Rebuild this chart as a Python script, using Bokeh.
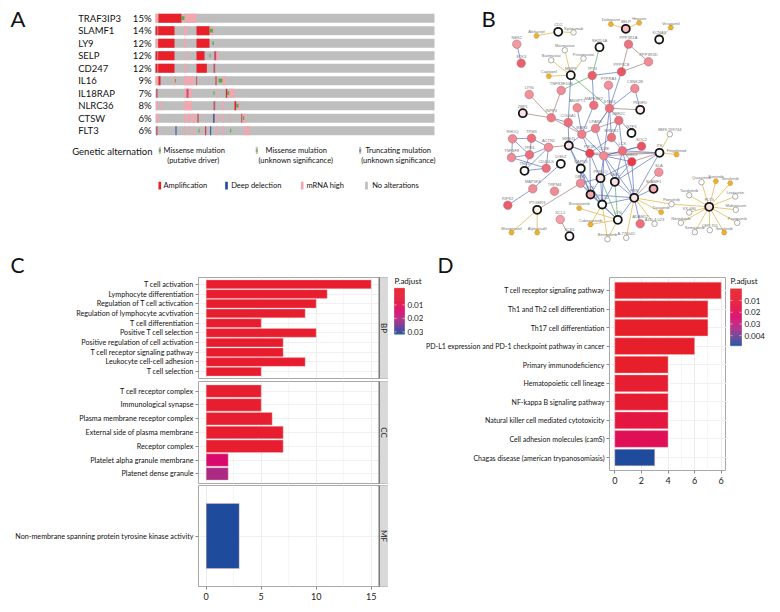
from bokeh.plotting import figure
from bokeh.embed import file_html
from bokeh.resources import INLINE
from bokeh.layouts import column, row
from bokeh.models import (Range1d, FactorRange, FixedTicker, Grid,
                          LinearColorMapper, ColumnDataSource)
from bokeh.core.properties import value
from bokeh.transform import transform
import numpy as np
import math

FONT = "Lato"

# ---------- Panel A data ----------
genes = ["TRAF3IP3", "SLAMF1", "LY9", "SELP", "CD247", "IL16", "IL18RAP", "NLRC36", "CTSW", "FLT3"]
gene_pct = ["15%", "14%", "12%", "12%", "12%", "9%", "7%", "8%", "6%", "6%"]
track_end = 837
amp_row = [0, 1, 1, 1, 2, 2, 2, 3, 3, 3, 4, 4, 4, 5, 5, 6, 7, 8, 9]
amp_start = [9, 0, 8, 123, 8, 123, 0, 0, 8, 123, 0, 8, 123, 9, 180, 211, 237, 126, 149]
amp_end = [78, 6, 57, 162, 57, 162, 0, 6, 57, 147, 6, 57, 154, 15, 183, 215, 242, 129, 152]
mrna_row = [0, 0, 1, 1, 2, 2, 3, 3, 4, 4, 5, 5, 5, 5, 6, 6, 6, 7, 7, 7, 7, 7, 8, 8, 8, 8, 8, 8, 8, 8, 9, 9, 9, 9, 9, 9]
mrna_start = [0, 87, 86, 165, 0, 86, 94, 182, 86, 174, 0, 55, 86, 201, 86, 183, 221, 2, 15, 86, 201, 249, 2, 86, 96, 108, 180, 201, 221, 260, 86, 102, 113, 181, 201, 267]
mrna_end = [9, 123, 95, 173, 6, 92, 99, 190, 92, 179, 9, 61, 116, 211, 110, 186, 237, 8, 19, 110, 206, 254, 9, 93, 104, 118, 186, 205, 225, 270, 90, 105, 117, 186, 205, 282]
dark_row = [3, 4, 5, 6, 6, 7, 8, 9]
dark_start = [176, 174, 122, 2, 93, 174, 257, 2]
dark_end = [182, 179, 125, 6, 99, 179, 260, 6]
deep_row = [8, 9, 9]
deep_start = [173, 60, 164]
deep_end = [177, 63, 167]
miss_row = [0, 1, 2, 3, 5, 6, 6, 7, 8, 9, 9, 5]
miss_start = [78, 162, 171, 162, 189, 174, 215, 242, 262, 129, 224, 58]
miss_end = [87, 172, 175, 165, 201, 177, 221, 249, 266, 132, 227, 61]

# ---------- Panel B data ----------
nodes_big = {  # name: (x, y, fill)
    "NEK2": (516.3, 43.7, "#F09AA2"), "STK3": (520.7, 62.7, "#E8606C"), "TP53": (591.7, 75, "#E85F6C"),
    "PPP3CB": (621, 71.3, "#E85563"), "PPP3R1A": (628, 43.7, "#EC7480"), "PPP3R3D": (648, 61.3, "#F08C96"),
    "PTPRA3": (608, 84.7, "#F2909A"), "CSNK2B": (634.3, 88, "#F08A94"), "TNFRSF10B": (560.7, 90, "#F08C96"),
    "LY96": (528.7, 94, "#F0929C"), "MAPK8K2": (593.3, 104.7, "#EC6F7C"), "ANGPT1": (576.7, 107.3, "#F08C96"),
    "STAT4": (609, 107.7, "#EC6F7C"), "INPP4": (550.7, 117.3, "#EE7C88"), "COL6A1": (567.7, 122, "#EC6F7C"),
    "UBE2C": (618.3, 120, "#EC6F7C"), "LPAR6": (595, 128, "#EE808C"), "MAP4": (581.3, 133.7, "#EE808C"),
    "BRMS1": (611, 137, "#EC6F7C"), "RHOQ": (512, 138.3, "#F08C96"), "TPM3": (531, 137.7, "#EC6F7C"),
    "ACTN1": (548, 146.7, "#F08C96"), "TNFSF8": (511, 157, "#F08C96"), "TPM1": (529, 154.3, "#EC6F7C"),
    "PIK3R": (589.3, 152.7, "#E84452"), "CD3E": (603.3, 155.3, "#F08C96"), "LCK": (622, 150.3, "#EC6F7C"),
    "SOC2": (641, 145.7, "#E85563"), "GSK3": (631.3, 161.3, "#E63A48"), "SLA": (658.3, 171.7, "#F0929C"),
    "CD40LG": (545.7, 167.7, "#EC6F7C"), "DBN1": (580, 182.7, "#F08C96"), "MAP3K8": (532.3, 188.3, "#F08C96"),
    "TRPM4": (554, 190.7, "#F08C96"), "RIPK2": (507.3, 204.7, "#E85F6C"), "XCL1": (559.7, 219, "#F0A0A8"),
    "ADAM12": (639.7, 223.3, "#EC6F7C"),
}
nodes_ring = {  # name: (x, y, fill)
    "CD2": (557.7, 31.3, "#FFFFFF"), "SELP": (625.3, 28.3, "#F6C0C4"), "KCNA3": (658.7, 39, "#FFFFFF"),
    "SH2D1A": (599, 46.7, "#FFFFFF"), "MMP9": (570.3, 74.7, "#FFFFFF"), "PDGFD": (639.7, 109.3, "#FDEDEE"),
    "ZBP1": (522.3, 112.7, "#FBE3E5"), "NTF3": (631, 132.5, "#FFFFFF"), "MRE11": (568.3, 145, "#FBE3E5"),
    "ITK": (659, 152.3, "#FFFFFF"), "TNK1": (524, 170.3, "#FFFFFF"), "DGKZ": (560.3, 163.3, "#FFFFFF"),
    "CAPN3": (580.3, 168, "#FFFFFF"), "PRKCQ": (600, 177.7, "#FBE3E5"), "VAV1": (614.3, 181.3, "#FBE3E5"),
    "SYK": (590, 194, "#F4A8B0"), "FYN": (633.7, 197.3, "#FBE3E5"), "PLCG2": (601.7, 204, "#FFFFFF"),
    "PTGER3": (536.7, 209.3, "#FDF3E8"), "LYN": (617.3, 219.3, "#FFFFFF"), "SLAMF1": (653, 188.3, "#F4A8B0"),
    "XCR1": (569, 235.7, "#FFFFFF"), "FLT3": (708.7, 206.3, "#FBE3E5"),
}
drugs_orange = {
    "Alefacept": (536, 35.3), "Dalteparin": (610.3, 23.7), "Heparin": (638.7, 22.3), "Verapamil": (670.3, 27),
    "Captopril": (548.3, 75.7), "Fingolimod": (676, 154), "Brivanoznib": (578.7, 207.7), "Dasatinib": (660.7, 211.7),
    "Cabozantinib": (590, 224), "Misoprostol": (511, 232), "Alprostadil": (536.7, 232), "Sunitinib": (715.3, 180.7),
    "Sorafenib": (729.7, 182.7), "Sorafenib.": (723.7, 232),
}
drugs_white = {
    "Siplizumab": (573, 32), "Marimastat": (564.3, 49.7), "Batimastat": (550.7, 59.7), "Prinomastat": (583, 58),
    "BMS-599744": (669.3, 133.7), "Ponatinib": (671, 203.7), "AZD-4-023": (654, 223.3), "Binimetinib": (607, 238.7),
    "A-770041": (625.7, 237.3), "Quizartinib": (701, 181.7), "Lestaurtin": (734.7, 196), "Midostaurin": (735.3, 209.3),
    "Pazopanib": (736.7, 222.3), "CEP-701": (709.3, 229.7), "Semaxanib": (694.3, 231.7), "Nintedanib": (680.3, 222.3),
    "VX-680": (688.7, 212), "Tandutinib": (688.7, 194.7),
}
edges_yellow = [("Alefacept", "CD2"), ("CD2", "Siplizumab"), ("Dalteparin", "SELP"), ("SELP", "Heparin"),
    ("Verapamil", "KCNA3"), ("Marimastat", "MMP9"), ("Batimastat", "MMP9"), ("Prinomastat", "MMP9"),
    ("Captopril", "MMP9"), ("BMS-599744", "ITK"), ("Fingolimod", "ITK"), ("Misoprostol", "PTGER3"),
    ("Alprostadil", "PTGER3"), ("Ponatinib", "FYN"), ("Dasatinib", "FYN"), ("AZD-4-023", "FYN"),
    ("A-770041", "FYN"), ("Binimetinib", "LYN"), ("Cabozantinib", "PLCG2"), ("Brivanoznib", "LYN"),
    ("Ponatinib", "FLT3"), ("Quizartinib", "FLT3"), ("Sunitinib", "FLT3"), ("Sorafenib", "FLT3"),
    ("Lestaurtin", "FLT3"), ("Midostaurin", "FLT3"), ("Pazopanib", "FLT3"), ("CEP-701", "FLT3"),
    ("Semaxanib", "FLT3"), ("Nintedanib", "FLT3"), ("VX-680", "FLT3"), ("Tandutinib", "FLT3"),
    ("Sorafenib.", "FLT3"), ("Binimetinib", "PLCG2"), ("Cabozantinib", "LYN")]
edges_blue = [("NEK2", "STK3"), ("TP53", "PPP3CB"), ("PPP3CB", "STAT4"), ("TP53", "MAPK8K2"), ("MMP9", "COL6A1"),
    ("CSNK2B", "STAT4"), ("CSNK2B", "PDGFD"), ("PTPRA3", "STAT4"), ("STAT4", "LPAR6"), ("MAPK8K2", "MAP4"),
    ("ANGPT1", "MAP4"), ("STAT4", "CD3E"), ("STAT4", "BRMS1"), ("UBE2C", "BRMS1"), ("MAP4", "PIK3R"), ("LPAR6", "MAP4"),
    ("MAP4", "CD3E"), ("RHOQ", "TPM3"), ("RHOQ", "TNFSF8"), ("TPM3", "ACTN1"), ("TNFSF8", "TPM1"), ("RHOQ", "TPM1"),
    ("TPM3", "TPM1"), ("TPM1", "ACTN1"), ("TNFSF8", "CD40LG"), ("ACTN1", "CD40LG"), ("TPM1", "TNK1"), ("TNK1", "CD40LG"),
    ("ACTN1", "TNK1"), ("MAP3K8", "DGKZ"), ("RIPK2", "MAP3K8"), ("PIK3R", "CD3E"), ("CD3E", "LCK"), ("LCK", "GSK3"),
    ("BRMS1", "LCK"), ("LPAR6", "CD3E"), ("CD3E", "GSK3"), ("PIK3R", "CAPN3"), ("PIK3R", "PRKCQ"), ("PIK3R", "SYK"),
    ("CD3E", "PRKCQ"), ("CD3E", "VAV1"), ("CD3E", "FYN"), ("LCK", "VAV1"), ("LCK", "FYN"), ("GSK3", "FYN"),
    ("GSK3", "VAV1"), ("ITK", "FYN"), ("ITK", "LCK"), ("ITK", "VAV1"), ("CAPN3", "SYK"), ("CAPN3", "PLCG2"),
    ("PRKCQ", "SYK"), ("PRKCQ", "PLCG2"), ("VAV1", "FYN"), ("VAV1", "PLCG2"), ("SYK", "PLCG2"), ("SYK", "FYN"),
    ("DBN1", "SYK"), ("DBN1", "PLCG2"), ("DBN1", "PRKCQ"), ("DBN1", "CAPN3"), ("PLCG2", "FYN"), ("PLCG2", "LYN"),
    ("LYN", "FYN"), ("SYK", "LYN"), ("FYN", "ADAM12"), ("FYN", "SLAMF1"), ("MRE11", "CAPN3"), ("MRE11", "PIK3R"),
    ("MRE11", "SYK"), ("MAP4", "MRE11"), ("BRMS1", "PIK3R"), ("COL6A1", "MRE11"), ("COL6A1", "MAP4"), ("STAT4", "NTF3"),
    ("UBE2C", "LCK"), ("CD3E", "PLCG2"), ("GSK3", "PRKCQ"), ("SOC2", "LCK"), ("SOC2", "CD3E"), ("INPP4", "COL6A1")]
edges_brown = [("PPP3R1A", "PPP3CB"), ("PPP3R1A", "PPP3R3D"), ("PPP3CB", "PPP3R3D"), ("STAT4", "PDGFD"), ("LY96", "INPP4"),
    ("ZBP1", "INPP4"), ("TNFRSF10B", "INPP4"), ("INPP4", "MAP4"), ("PTGER3", "DBN1"), ("XCL1", "XCR1"), ("LPAR6", "UBE2C"),
    ("ACTN1", "MRE11"), ("MRE11", "PIK3R"), ("CD3E", "ITK"), ("GSK3", "ITK"), ("FYN", "SLA"), ("PIK3R", "ITK"), ("LPAR6", "STAT4")]
edges_green = [("SH2D1A", "TP53"), ("MMP9", "STAT4"), ("TNFRSF10B", "TP53"), ("PRKCQ", "LYN"), ("VAV1", "LYN")]

# ---------- Panels C / D data ----------
bp_terms = ["T cell activation", "Lymphocyte differentiation", "Regulation of T cell activcation",
            "Regulation of lymphocyte acvtivation", "T cell differentiation", "Positive T cell selection",
            "Positive regulation of cell activation", "T cell receptor signaling pathway",
            "Leukocyte cell-cell adhesion", "T cell selection"]
bp_count = [15, 11, 10, 9, 5, 10, 7, 7, 9, 5]
bp_padj = [0.0005, 0.0005, 0.0005, 0.0005, 0.0005, 0.0005, 0.0006, 0.0006, 0.0006, 0.0007]
cc_terms = ["T cell receptor complex", "Immunological synapse", "Plasma membrane receptor complex",
            "External side of plasma membrane", "Receptor complex", "Platelet alpha granule membrane",
            "Platenet dense granule"]
cc_count = [5, 5, 6, 7, 7, 2, 2]
cc_padj = [0.0005, 0.0005, 0.0005, 0.0005, 0.0005, 0.0150, 0.0215]
mf_terms = ["Non-membrane spanning protein tyrosine kinase activity"]
mf_count = [3]
mf_padj = [0.0317]
kegg_terms = ["T cell receptor signaling pathway", "Th1 and Th2 cell differentiation", "Th17 cell differentiation",
              "PD-L1 expression and PD-1 checkpoint pathway in cancer", "Primary immunodeficiency",
              "Hematopoietic cell lineage", "NF-kappa B signaling pathway",
              "Natural killer cell mediated cytotoxicity", "Cell adhesion molecules (camS)",
              "Chagas disease (american trypanosomiasis)"]
kegg_count = [8, 7, 7, 6, 4, 4, 4, 4, 4, 3]
kegg_padj = [0.0005, 0.0005, 0.0005, 0.0008, 0.0012, 0.006, 0.007, 0.014, 0.019, 0.0486]

RED, BLUE, PINK, GREY = "#E8202A", "#264EA0", "#F2A6AE", "#BEBEBE"
stops_t = [0.0, 0.25, 0.5, 0.7, 0.85, 1.0]
stops_c = ["#E8202A", "#E61A3A", "#DB0A6C", "#AE2A84", "#633C94", "#1E4B9C"]


def ramp():
    ts = np.linspace(0, 1, 256)
    rgb = [[int(c[i:i + 2], 16) for c in stops_c] for i in (1, 3, 5)]
    chan = [np.interp(ts, stops_t, r) for r in rgb]
    return ["#%02X%02X%02X" % (int(a), int(b), int(c)) for a, b, c in zip(*chan)]


PAL = ramp()


def txt(p, x, y, s, size, color="#111111", align="left", baseline="middle"):
    p.text(x=[x], y=[y], text=[s], text_font=value(FONT), text_font_size=value(f"{size}px"),
           text_color=color, text_align=align, text_baseline=baseline)


def blank(w, h, x0, y0):
    """A figure whose frame is the whole canvas, with reference pixel coordinates as its data space."""
    p = figure(width=w, height=h, output_backend="svg", toolbar_location=None, min_border=0, frame_align=False,
               x_range=Range1d(x0, x0 + w), y_range=Range1d(y0 + h, y0),
               x_axis_location=None, y_axis_location=None, outline_line_color=None)
    p.grid.visible = False
    return p


# ---------- Panel A ----------
a = figure(width=445, height=250, output_backend="svg", toolbar_location=None, min_border=0, frame_align=False,
           x_range=Range1d((0 - 155) * 3, (445 - 155) * 3), y_range=Range1d((250 - 17.7) / 12.5, (0 - 17.7) / 12.5),
           x_axis_location=None, y_axis_location=None, outline_line_color=None)
a.grid.visible = False
xa = lambda px: (px - 155) * 3
ya = lambda py: (py - 17.7) / 12.5
n = len(genes)
a.hbar(y=list(range(n)), left=[0] * n, right=[track_end] * n, height=0.72, fill_color=GREY, line_color=None)
a.hbar(y=mrna_row, left=mrna_start, right=mrna_end, height=0.72, fill_color=PINK, line_color=None)
a.hbar(y=amp_row, left=amp_start, right=amp_end, height=0.72, fill_color=RED, line_color=None)
a.hbar(y=dark_row, left=dark_start, right=dark_end, height=0.72, fill_color="#C4506A", line_color=None)
a.hbar(y=deep_row, left=deep_start, right=deep_end, height=0.72, fill_color=BLUE, line_color=None)
a.hbar(y=miss_row, left=miss_start, right=miss_end, height=0.3, fill_color="#5AA84A", line_color=None)
for i, g in enumerate(genes):
    txt(a, xa(77.7), i, g, 9.5)
    txt(a, xa(151), i, gene_pct[i], 9.5, "#111111", "right")
txt(a, xa(10), ya(18), "A", 22)
txt(a, xa(71.7), ya(151), "Genetic alternation", 9.5)
leg = [(159.3, 150, "#5AA84A", "Missense mulation", 163, 150), (166.7, None, None, "(putative driver)", 166.7, 160),
       (256.3, 150, "#7CB84A", "Missense mulation", 265, 150), (None, None, None, "(unknown significance)", 258, 160),
       (359.7, 150, "#888888", "Truncating mulation", 365, 150), (None, None, None, "(unknown significance)", 360.7, 160)]
for mx, my, mc, t, tx, ty in leg:
    if mc:
        a.rect(x=[xa(mx)], y=[ya(my)], width=6, height=0.55, fill_color="#BEBEBE", line_color=None)
        a.rect(x=[xa(mx)], y=[ya(my)], width=6, height=0.2, fill_color=mc, line_color=None)
    txt(a, xa(tx), ya(ty), t, 7.5)
for mx, mc, t, tx in [(159.3, RED, "Amplification", 163), (226, BLUE, "Deep delection", 230.7),
                      (301.7, PINK, "mRNA high", 306), (366, GREY, "No alterations", 371.7)]:
    a.rect(x=[xa(mx)], y=[ya(185)], width=8, height=0.62, fill_color=mc, line_color=None)
    txt(a, xa(tx), ya(185), t, 7.5)

# ---------- Panel B ----------
b = blank(335, 250, 445, 0)
pos = {}
for d in (nodes_big, nodes_ring):
    pos.update({k: v[:2] for k, v in d.items()})
pos.update(drugs_orange)
pos.update(drugs_white)


def draw_edges(es, color, w, alpha=1.0):
    b.multi_line(xs=[[pos[u][0], pos[v][0]] for u, v in es], ys=[[pos[u][1], pos[v][1]] for u, v in es],
                 line_color=color, line_width=w, line_alpha=alpha)


draw_edges(edges_yellow, "#E3C268", 0.9)
draw_edges(edges_brown, "#B08A80", 0.8)
draw_edges(edges_blue, "#5A76C4", 0.8, 0.9)
draw_edges(edges_green, "#6DB37A", 0.8)
xs = [v[0] for v in drugs_white.values()]
ys = [v[1] for v in drugs_white.values()]
b.scatter(xs, ys, size=5.5, fill_color="white", line_color="#8A8A8A", line_width=0.7)
xs = [v[0] for v in drugs_orange.values()]
ys = [v[1] for v in drugs_orange.values()]
b.scatter(xs, ys, marker="hex", size=5.5, fill_color="#EDB02F", line_color="#B98A2A", line_width=0.4)
xs = [v[0] for v in nodes_big.values()]
ys = [v[1] for v in nodes_big.values()]
b.scatter(xs, ys, size=8.5, fill_color=[v[2] for v in nodes_big.values()], line_color="#B0606A", line_width=0.5)
xs = [v[0] for v in nodes_ring.values()]
ys = [v[1] for v in nodes_ring.values()]
b.scatter(xs, ys, size=8, fill_color=[v[2] for v in nodes_ring.values()], line_color="#161616", line_width=1.8)
for dct, off in ((nodes_big, 7), (nodes_ring, 7), (drugs_orange, 4.5), (drugs_white, 4.5)):
    names = list(dct.keys())
    b.text(x=[dct[k][0] for k in names], y=[dct[k][1] - off for k in names], text=[k.rstrip(".") for k in names],
           text_font=value("Liberation Sans"), text_font_size=value("4px"), text_color="#777777",
           text_align="center", text_baseline="middle")
txt(b, 481, 18, "B", 22)


# ---------- Panels C, D ----------
def bars(terms, counts, padj, mapper, xr, frame_w, frame_h, top, bottom, left, right, strip=None, ticks=None,
         tick_labels=None, minor=None, maj=None, label_size="7.2px"):
    src = ColumnDataSource(dict(term=terms, count=counts, padj=padj))
    fr = FactorRange(factors=list(reversed(terms)), range_padding=0.2, range_padding_units="absolute")
    p = figure(width=left + frame_w + right, height=top + frame_h + bottom, frame_width=frame_w, frame_height=frame_h,
               output_backend="svg", toolbar_location=None, x_range=Range1d(*xr), y_range=fr, frame_align=False,
               min_border_left=left, min_border_right=right, min_border_top=top, min_border_bottom=bottom,
               outline_line_color="#A8A8A8", outline_line_width=1)
    p.grid.visible = False
    g = Grid(dimension=0, ticker=FixedTicker(ticks=maj, minor_ticks=minor), grid_line_color="#ECECEC",
             minor_grid_line_color="#F6F6F6")
    p.add_layout(g)
    p.add_layout(Grid(dimension=1, ticker=p.yaxis[0].ticker, grid_line_color="#F0F0F0"))
    p.hbar(y="term", left=0, right="count", height=0.9, source=src, fill_color=transform("padj", mapper),
           line_color="#F5C0C0", line_width=0.4)
    yx = p.yaxis[0]
    yx.axis_line_color = None
    yx.major_tick_out = 3
    yx.major_tick_in = 0
    yx.major_tick_line_color = "#888888"
    yx.major_label_text_font = FONT
    yx.major_label_text_font_size = label_size
    yx.major_label_text_color = "#111111"
    yx.major_label_standoff = 2
    xx = p.xaxis[0]
    if ticks is None:
        xx.visible = False
    else:
        xx.ticker = FixedTicker(ticks=ticks)
        xx.major_label_overrides = tick_labels or {}
        xx.axis_line_color = None
        xx.major_tick_out = 3
        xx.major_tick_in = 0
        xx.minor_tick_out = 0
        xx.major_tick_line_color = "#888888"
        xx.major_label_text_font = FONT
        xx.major_label_text_font_size = "9px"
        xx.major_label_text_color = "#222222"
        xx.major_label_standoff = 3
    if strip:
        n = len(terms)
        p.quad(left=[xr[1] - 0.85], right=[xr[1]], bottom=[-5], top=[n + 5], fill_color="#D9D9D9", line_color=None)
        p.segment(x0=[xr[1] - 0.85], x1=[xr[1] - 0.85], y0=[-5], y1=[n + 5], line_color="#444444", line_width=1)
        p.text(x=[xr[1] - 0.42], y=[n / 2 + 0.0], text=[strip], text_font=value(FONT), text_font_size=value("8px"),
               text_color="#222222", text_align="center", text_baseline="middle", angle=-math.pi / 2)
    return p


def legend_fig(w, h, x0, y0, low, high, ticks, labels, bar_w, bar_h, bar_x, bar_top):
    """Colour legend with the smallest value on top, drawn from the same palette as the bars."""
    p = blank(w, h, x0, y0)
    txt(p, bar_x, 280, "P.adjust", 8)
    cols = PAL[::3]
    k = len(cols)
    edge = [bar_top + bar_h * i / k for i in range(k + 1)]
    p.quad(left=[bar_x] * k, right=[bar_x + bar_w] * k, top=edge[:-1], bottom=edge[1:], fill_color=cols, line_color=cols,
           line_width=0.3)
    ty = [bar_top + (t - low) / (high - low) * bar_h for t in ticks]
    p.segment(x0=[bar_x] * len(ty), x1=[bar_x + 2] * len(ty), y0=ty, y1=ty, line_color="white", line_width=0.6)
    p.segment(x0=[bar_x + bar_w - 2] * len(ty), x1=[bar_x + bar_w] * len(ty), y0=ty, y1=ty, line_color="white", line_width=0.6)
    for yy, s in zip(ty, labels):
        txt(p, bar_x + bar_w + 3, yy, s, 8, "#222222")
    return p


map_c = LinearColorMapper(palette=PAL, low=-0.0024, high=0.0317)
map_d = LinearColorMapper(palette=PAL, low=0.0, high=0.0486)
c_xr = (-0.70, 16.58)
maj_c = [0, 5, 10, 15]
min_c = [2.5, 7.5, 12.5]

head = blank(780, 27, 0, 250)
txt(head, 10, 264, "C", 21)
txt(head, 437, 264, "D", 21)

c1 = bars(bp_terms, bp_count, bp_padj, map_c, c_xr, 190, 101, 0, 2, 198, 0, "BP", None, None, min_c, maj_c)
c2 = bars(cc_terms, cc_count, cc_padj, map_c, c_xr, 190, 102, 1, 1, 198, 0, "CC", None, None, min_c, maj_c)
c3 = bars(mf_terms, mf_count, mf_padj, map_c, c_xr, 190, 101, 1, 26, 198, 0, "MF", maj_c, None, min_c, maj_c)
side_c = legend_fig(35, 335, 388, 277, -0.0024, 0.0317, [0.01, 0.02, 0.03], ["0.01", "0.02", "0.03"], 10, 46, 394, 287.7)

d = bars(kegg_terms, kegg_count, kegg_padj, map_d, (-0.4, 8.4), 117, 193, 0, 142, 185, 0, None, [0, 2, 4, 6, 8],
         {8: "6"}, [1, 3, 5, 7], [0, 2, 4, 6, 8], "7px")
side_d = legend_fig(55, 335, 725, 277, 0.0, 0.0486, [0.01, 0.02, 0.03, 0.04], ["0.01", "0.02", "0.03", "0.004"], 11, 57, 729, 288.3)

layout = column(row(a, b, spacing=0), head,
                row(column(c1, c2, c3, spacing=0), side_c, d, side_d, spacing=0),
                spacing=0)
open("out.html", "w").write(file_html(layout, INLINE))
